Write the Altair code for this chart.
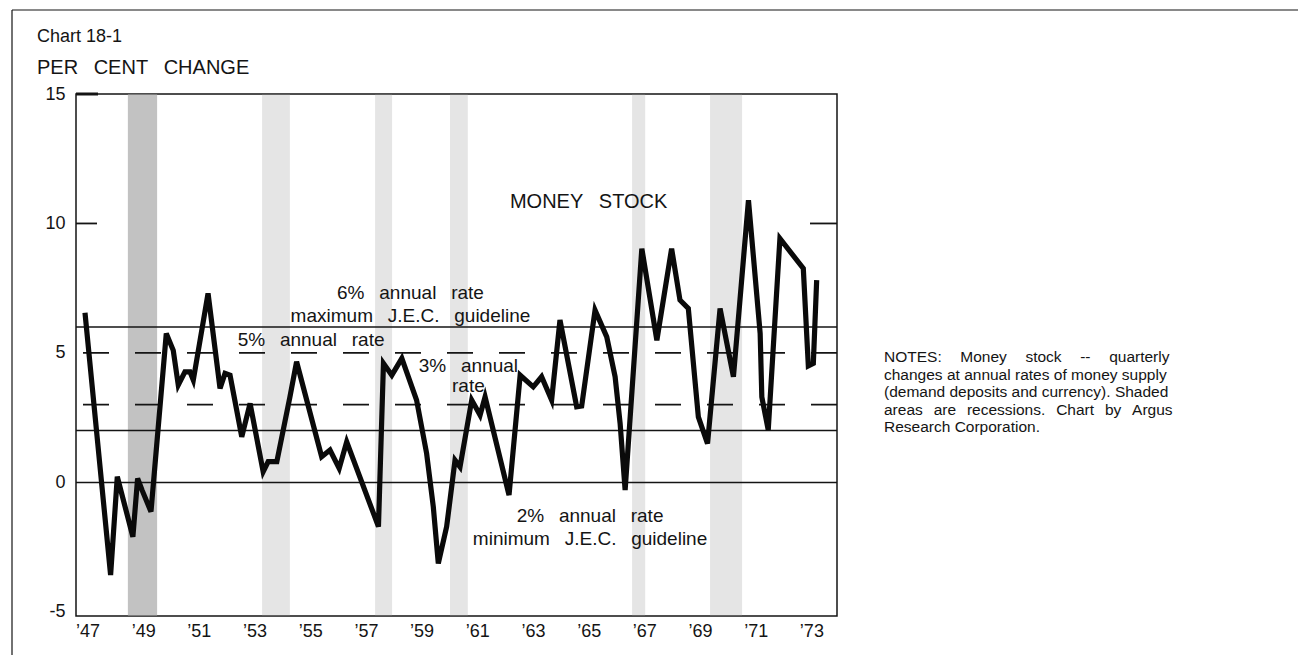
import altair as alt
import pandas as pd

# ---- data ----
years = [1946.91, 1947.83, 1948.07, 1948.63, 1948.80, 1948.96, 1949.28, 1949.83,
         1950.08, 1950.26, 1950.50, 1950.68, 1950.80, 1951.33, 1951.76, 1951.94,
         1952.12, 1952.54, 1952.84, 1953.31, 1953.49, 1953.80, 1954.27, 1954.51,
         1955.41, 1955.71, 1956.04, 1956.31, 1957.45, 1957.63, 1957.93, 1958.29,
         1958.82, 1959.18, 1959.42, 1959.60, 1959.90, 1960.20, 1960.38, 1960.80,
         1961.10, 1961.28, 1962.14, 1962.54, 1963.01, 1963.31, 1963.67, 1963.97,
         1964.57, 1964.75, 1965.23, 1965.65, 1965.95, 1966.13, 1966.31, 1966.91,
         1967.45, 1967.98, 1968.28, 1968.58, 1968.94, 1969.27, 1969.72, 1970.20,
         1970.74, 1971.16, 1971.22, 1971.45, 1971.87, 1972.71, 1972.89, 1973.07,
         1973.19]
values = [6.55, -3.58, 0.22, -2.10, 0.15, -0.30, -1.13, 5.75,
          5.10, 3.76, 4.27, 4.27, 3.95, 7.30, 3.63, 4.21,
          4.14, 1.76, 3.05, 0.41, 0.80, 0.80, 3.30, 4.66,
          0.99, 1.25, 0.54, 1.57, -1.71, 4.60, 4.14, 4.79,
          3.18, 1.12, -0.94, -3.13, -1.71, 0.86, 0.60, 3.18,
          2.60, 3.30, -0.49, 4.14, 3.69, 4.08, 3.18, 6.27,
          2.92, 2.95, 6.65, 5.62, 4.08, 2.28, -0.30, 9.03,
          5.49, 9.03, 7.04, 6.72, 2.53, 1.50, 6.72, 4.08,
          10.90, 5.75, 3.30, 2.02, 9.42, 8.26, 4.50, 4.60,
          7.81]

band_start = [1948.45, 1953.27, 1957.33, 1960.02, 1966.56, 1969.36]
band_end = [1949.50, 1954.27, 1957.94, 1960.66, 1967.03, 1970.51]

solid_levels = [0, 2, 6]
dashed_levels = [3, 5]
x_ticks = list(range(1947, 1974, 2))
y_ticks = [-5, 0, 5, 10, 15]

title_line1 = "Chart 18-1"
title_line2 = "PER CENT CHANGE"
series_label = "MONEY STOCK"
series_label_pos = (1965.0, 10.58)
max_label = ["6% annual rate", "maximum J.E.C. guideline"]
max_label_pos = (1958.6, 7.07)
five_label = "5% annual rate"
five_label_pos = (1955.03, 5.27)
three_label = ["3% annual", "rate"]
three_label_pos = (1960.68, 4.25)
min_label = ["2% annual rate", "minimum J.E.C. guideline"]
min_label_pos = (1965.05, -1.53)
notes = ["NOTES: Money stock -- quarterly",
         "changes at annual rates of money supply",
         "(demand deposits and currency). Shaded",
         "areas are recessions. Chart by Argus",
         "Research Corporation."]
# word-gap widening per notes line, to imitate the justified block
notes_gaps = ["\u2003\u2009", " ", " ", "\u2002\u2009", " "]

# ---- layout / style ----
FONT = "Liberation Sans"
INK = "#141414"
W, H = 761, 522
PAD = {"left": 68, "top": 86, "right": 461, "bottom": 40}


def wide(s):
    return s.replace(" ", "\u2002 ")


xs = alt.Scale(domain=[1946.587, 1973.92], nice=False, zero=False)
ys = alt.Scale(domain=[-5.16, 15], nice=False, zero=False)
AX = alt.Axis(values=x_ticks, labelExpr="'\u2019' + substring(toString(datum.value), 2, 4)",
              grid=False, ticks=False, domain=False, labelFont=FONT, labelFontSize=18,
              labelColor=INK, labelPadding=6, labelFlush=False)
AY = alt.Axis(values=y_ticks, labelExpr="toString(datum.value)", grid=False, ticks=False,
              domain=False, labelFont=FONT, labelFontSize=18, labelColor=INK, labelPadding=11)

line_df = pd.DataFrame({"year": years, "value": values})
band_df = pd.DataFrame({"start": band_start, "end": band_end})
band_df["dense"] = band_df["start"] < 1950
solid_df = pd.DataFrame({"level": solid_levels})
dashed_df = pd.DataFrame({"level": dashed_levels})
one = pd.DataFrame({"k": [0]})

bands = alt.Chart(band_df).mark_rect(color="#9a9a9a").encode(
    x=alt.X("start:Q", scale=xs, axis=AX, title=None),
    x2="end:Q",
    opacity=alt.condition("datum.dense", alt.value(0.6), alt.value(0.26)),
)

solid = alt.Chart(solid_df).mark_rule(color=INK, strokeWidth=1.5).encode(
    y=alt.Y("level:Q", scale=ys, axis=AY, title=None)
)
dashed = alt.Chart(dashed_df).mark_rule(color=INK, strokeWidth=1.8, strokeDash=[26, 26]).encode(
    y=alt.Y("level:Q", scale=ys, axis=AY, title=None)
)

ticks = alt.layer(
    alt.Chart(one).mark_rule(color=INK, strokeWidth=3).encode(
        x=alt.value(0), x2=alt.value(22), y=alt.datum(15, scale=ys)),
    alt.Chart(one).mark_rule(color=INK, strokeWidth=1.8).encode(
        x=alt.value(0), x2=alt.value(21), y=alt.datum(10, scale=ys)),
    alt.Chart(one).mark_rule(color=INK, strokeWidth=1.8).encode(
        x=alt.value(W - 27), x2=alt.value(W), y=alt.datum(10, scale=ys)),
)

line = alt.Chart(line_df).mark_line(color="#0a0a0a", strokeWidth=5.2, strokeJoin="miter").encode(
    x=alt.X("year:Q", scale=xs, title=None, axis=AX),
    y=alt.Y("value:Q", scale=ys, title=None, axis=AY),
)


def dtext(txt, pos, align="center", size=19, lh=22):
    return alt.Chart(one).mark_text(font=FONT, fontSize=size, color=INK, align=align,
                                    baseline="alphabetic", lineHeight=lh).encode(
        x=alt.datum(pos[0], scale=xs), y=alt.datum(pos[1], scale=ys),
        text=alt.value(txt))


texts = alt.layer(
    dtext(wide(series_label), series_label_pos, size=20),
    dtext([wide(t) for t in max_label], max_label_pos, lh=22.4),
    dtext(wide(five_label), five_label_pos),
    dtext([wide(t) for t in three_label], three_label_pos, lh=19.5),
    dtext([wide(t) for t in min_label], min_label_pos, lh=23),
)

notes_text = [ln.replace(" ", g) for ln, g in zip(notes, notes_gaps)]

outer = alt.layer(
    alt.Chart(one).mark_text(font=FONT, fontSize=18, color=INK, align="left", baseline="alphabetic").encode(
        x=alt.value(-39), y=alt.value(-52), text=alt.value(title_line1)),
    alt.Chart(one).mark_text(font=FONT, fontSize=20, color=INK, align="left", baseline="alphabetic").encode(
        x=alt.value(-39), y=alt.value(-20), text=alt.value(wide(title_line2))),
    alt.Chart(one).mark_text(font=FONT, fontSize=15.5, color=INK, align="left", baseline="alphabetic",
                             lineHeight=17.5).encode(
        x=alt.value(808), y=alt.value(268), text=alt.value(notes_text)),
    alt.Chart(one).mark_rule(color=INK, strokeWidth=1.2).encode(
        x=alt.value(-64), x2=alt.value(1290 - PAD["left"]), y=alt.value(-84)),
    alt.Chart(one).mark_rule(color=INK, strokeWidth=1.2).encode(
        x=alt.value(-64), y=alt.value(-84), y2=alt.value(561)),
)

chart = alt.layer(bands, solid, dashed, ticks, line, texts, outer).properties(
    width=W, height=H, padding=PAD, autosize=alt.AutoSizeParams(type="none"),
    background="white",
).configure_view(stroke=INK, strokeWidth=1.5)

chart.save("out.html", embed_options={"renderer": "svg", "actions": False})
